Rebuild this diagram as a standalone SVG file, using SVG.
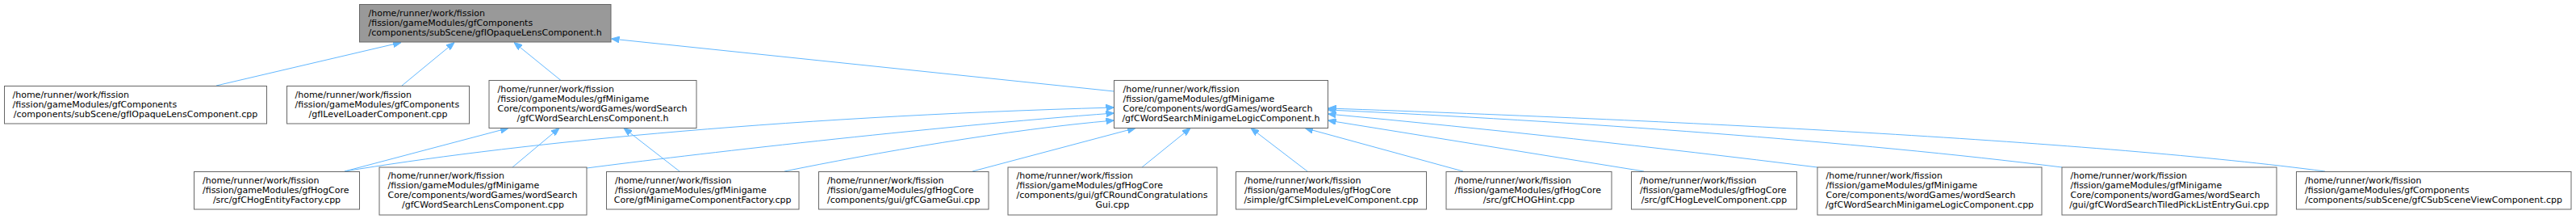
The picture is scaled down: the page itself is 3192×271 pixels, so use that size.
<svg xmlns="http://www.w3.org/2000/svg" width="3192" height="271" viewBox="0 0 3192 271">
<style>
.box{fill:#ffffff;stroke:#666666;stroke-width:1}
.root{fill:#999999;stroke:#666666;stroke-width:1}
text{font-family:"DejaVu Sans","Liberation Sans",sans-serif;font-size:11px;fill:#000000}
.c{text-anchor:middle}
.e{fill:none;stroke:#63b8ff;stroke-width:1}
</style>
<defs>
<marker id="ah" viewBox="0 0 10 8" refX="10" refY="4" markerWidth="10" markerHeight="8" markerUnits="userSpaceOnUse" orient="auto">
<path d="M0,0 L10,4 L0,8 z" fill="#63b8ff" stroke="#63b8ff" stroke-width="1"/>
</marker>
</defs>
<rect width="3192" height="271" fill="#ffffff"/>
<g id="edges">
<path class="e" marker-end="url(#ah)" d="M268,106 L497,52.5"/>
<path class="e" marker-end="url(#ah)" d="M498,106 L563,52.5"/>
<path class="e" marker-end="url(#ah)" d="M695,99.5 L637,52.5"/>
<path class="e" marker-end="url(#ah)" d="M1380.5,113 L757.5,48"/>
<path class="e" marker-end="url(#ah)" d="M427,212 L630,158.5"/>
<path class="e" marker-end="url(#ah)" d="M427,212 C620,180 950,145 1380.5,133"/>
<path class="e" marker-end="url(#ah)" d="M635,207 L693,158.5"/>
<path class="e" marker-end="url(#ah)" d="M727,208 C850,192 1150,157 1380.5,140"/>
<path class="e" marker-end="url(#ah)" d="M842,212 L773,158.5"/>
<path class="e" marker-end="url(#ah)" d="M972,212 C1080,190 1250,160 1380.5,149"/>
<path class="e" marker-end="url(#ah)" d="M1205,212 L1407,158.5"/>
<path class="e" marker-end="url(#ah)" d="M1415,207 L1475,158.5"/>
<path class="e" marker-end="url(#ah)" d="M1620,212 L1550,158.5"/>
<path class="e" marker-end="url(#ah)" d="M1813,212 L1617,158.5"/>
<path class="e" marker-end="url(#ah)" d="M2037,212 L1645.5,149"/>
<path class="e" marker-end="url(#ah)" d="M2252,207 C2050,182 1850,160 1645.5,141"/>
<path class="e" marker-end="url(#ah)" d="M2555,207 C2300,175 1950,150 1645.5,136"/>
<path class="e" marker-end="url(#ah)" d="M2881,212 C2600,175 2100,150 1645.5,134"/>
</g>
<g id="node-T">
<rect class="root" x="445.5" y="5.5" width="311.5" height="46.5"/>
<text x="456.5" y="19.5">/home/runner/work/fission</text>
<text x="456.5" y="31.5">/fission/gameModules/gfComponents</text>
<text class="c" x="601.2" y="43.5">/components/subScene/gfIOpaqueLensComponent.h</text>
</g>
<g id="node-A">
<rect class="box" x="5.5" y="106.5" width="325" height="46.5"/>
<text x="15.5" y="120.5">/home/runner/work/fission</text>
<text x="15.5" y="132.5">/fission/gameModules/gfComponents</text>
<text class="c" x="168" y="144.5">/components/subScene/gfIOpaqueLensComponent.cpp</text>
</g>
<g id="node-B">
<rect class="box" x="355.5" y="106.5" width="226" height="46.5"/>
<text x="365.5" y="120.5">/home/runner/work/fission</text>
<text x="365.5" y="132.5">/fission/gameModules/gfComponents</text>
<text class="c" x="468.5" y="144.5">/gfILevelLoaderComponent.cpp</text>
</g>
<g id="node-C">
<rect class="box" x="606" y="99.5" width="257" height="59"/>
<text x="616.5" y="113.5">/home/runner/work/fission</text>
<text x="616.5" y="125.5">/fission/gameModules/gfMinigame</text>
<text x="616.5" y="137.5">Core/components/wordGames/wordSearch</text>
<text class="c" x="734.5" y="149.5">/gfCWordSearchLensComponent.h</text>
</g>
<g id="node-M">
<rect class="box" x="1380.5" y="99.5" width="265" height="59"/>
<text x="1391.5" y="113.5">/home/runner/work/fission</text>
<text x="1391.5" y="125.5">/fission/gameModules/gfMinigame</text>
<text x="1391.5" y="137.5">Core/components/wordGames/wordSearch</text>
<text class="c" x="1513" y="149.5">/gfCWordSearchMinigameLogicComponent.h</text>
</g>
<g id="node-D">
<rect class="box" x="240.5" y="212.5" width="205" height="46.5"/>
<text x="251" y="226.5">/home/runner/work/fission</text>
<text x="251" y="238.5">/fission/gameModules/gfHogCore</text>
<text class="c" x="343" y="250.5">/src/gfCHogEntityFactory.cpp</text>
</g>
<g id="node-E">
<rect class="box" x="470" y="207" width="257" height="59"/>
<text x="480.5" y="221">/home/runner/work/fission</text>
<text x="480.5" y="233">/fission/gameModules/gfMinigame</text>
<text x="480.5" y="245">Core/components/wordGames/wordSearch</text>
<text class="c" x="598.5" y="257">/gfCWordSearchLensComponent.cpp</text>
</g>
<g id="node-F">
<rect class="box" x="751.5" y="212.5" width="238.5" height="46.5"/>
<text x="762" y="226.5">/home/runner/work/fission</text>
<text x="762" y="238.5">/fission/gameModules/gfMinigame</text>
<text class="c" x="870.7" y="250.5">Core/gfMinigameComponentFactory.cpp</text>
</g>
<g id="node-G">
<rect class="box" x="1014.5" y="212.5" width="210.5" height="46.5"/>
<text x="1025" y="226.5">/home/runner/work/fission</text>
<text x="1025" y="238.5">/fission/gameModules/gfHogCore</text>
<text class="c" x="1119.7" y="250.5">/components/gui/gfCGameGui.cpp</text>
</g>
<g id="node-H">
<rect class="box" x="1249" y="207" width="259" height="59"/>
<text x="1259.5" y="221">/home/runner/work/fission</text>
<text x="1259.5" y="233">/fission/gameModules/gfHogCore</text>
<text x="1259.5" y="245">/components/gui/gfCRoundCongratulations</text>
<text class="c" x="1378.5" y="257">Gui.cpp</text>
</g>
<g id="node-I">
<rect class="box" x="1531.5" y="212.5" width="236" height="46.5"/>
<text x="1542" y="226.5">/home/runner/work/fission</text>
<text x="1542" y="238.5">/fission/gameModules/gfHogCore</text>
<text class="c" x="1649.5" y="250.5">/simple/gfCSimpleLevelComponent.cpp</text>
</g>
<g id="node-J">
<rect class="box" x="1792" y="212.5" width="205" height="46.5"/>
<text x="1802.5" y="226.5">/home/runner/work/fission</text>
<text x="1802.5" y="238.5">/fission/gameModules/gfHogCore</text>
<text class="c" x="1894.5" y="250.5">/src/gfCHOGHint.cpp</text>
</g>
<g id="node-K">
<rect class="box" x="2021.5" y="212.5" width="205" height="46.5"/>
<text x="2032" y="226.5">/home/runner/work/fission</text>
<text x="2032" y="238.5">/fission/gameModules/gfHogCore</text>
<text class="c" x="2124" y="250.5">/src/gfCHogLevelComponent.cpp</text>
</g>
<g id="node-L">
<rect class="box" x="2252" y="207" width="278" height="59"/>
<text x="2262.5" y="221">/home/runner/work/fission</text>
<text x="2262.5" y="233">/fission/gameModules/gfMinigame</text>
<text x="2262.5" y="245">Core/components/wordGames/wordSearch</text>
<text class="c" x="2391" y="257">/gfCWordSearchMinigameLogicComponent.cpp</text>
</g>
<g id="node-N">
<rect class="box" x="2555" y="207" width="266" height="59"/>
<text x="2565.5" y="221">/home/runner/work/fission</text>
<text x="2565.5" y="233">/fission/gameModules/gfMinigame</text>
<text x="2565.5" y="245">Core/components/wordGames/wordSearch</text>
<text class="c" x="2688" y="257">/gui/gfCWordSearchTiledPickListEntryGui.cpp</text>
</g>
<g id="node-O">
<rect class="box" x="2845.5" y="212.5" width="340.5" height="46.5"/>
<text x="2856" y="226.5">/home/runner/work/fission</text>
<text x="2856" y="238.5">/fission/gameModules/gfComponents</text>
<text class="c" x="3015.7" y="250.5">/components/subScene/gfCSubSceneViewComponent.cpp</text>
</g>
</svg>
